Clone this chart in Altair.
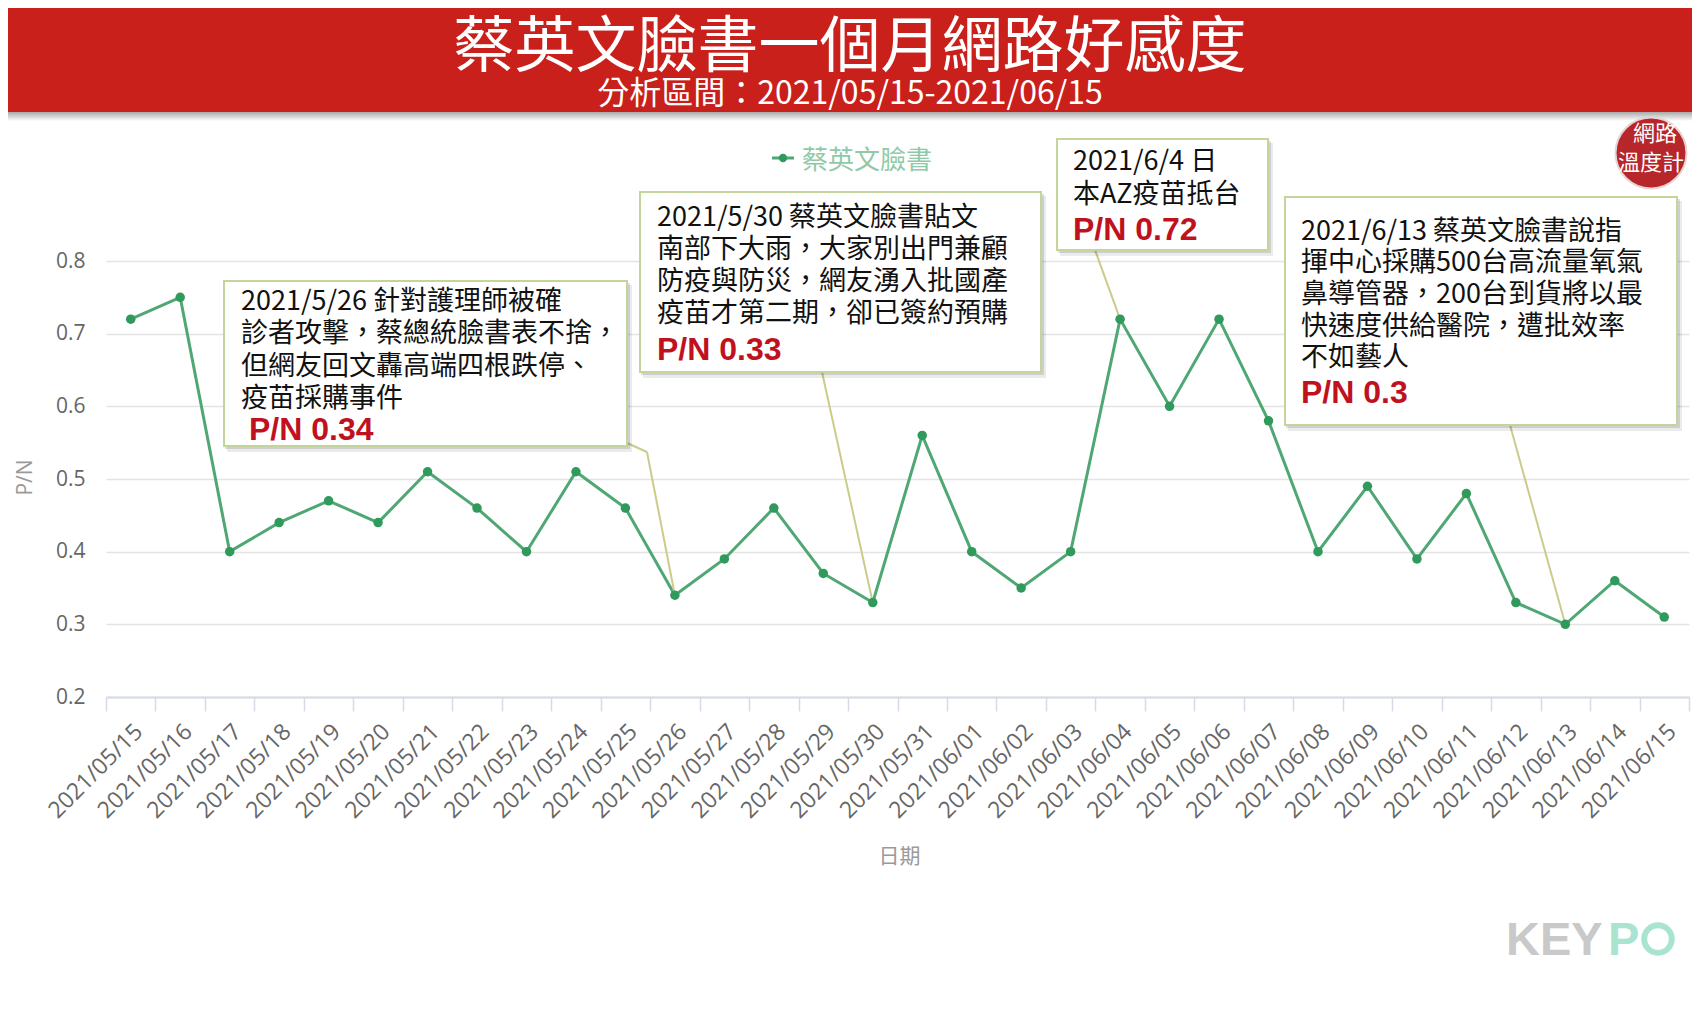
import altair as alt
import pandas as pd

# ---------------- data ----------------
dates = [
    "2021/05/15", "2021/05/16", "2021/05/17", "2021/05/18", "2021/05/19",
    "2021/05/20", "2021/05/21", "2021/05/22", "2021/05/23", "2021/05/24",
    "2021/05/25", "2021/05/26", "2021/05/27", "2021/05/28", "2021/05/29",
    "2021/05/30", "2021/05/31", "2021/06/01", "2021/06/02", "2021/06/03",
    "2021/06/04", "2021/06/05", "2021/06/06", "2021/06/07", "2021/06/08",
    "2021/06/09", "2021/06/10", "2021/06/11", "2021/06/12", "2021/06/13",
    "2021/06/14", "2021/06/15",
]
pn_values = [
    0.72, 0.75, 0.40, 0.44, 0.47, 0.44, 0.51, 0.46, 0.40, 0.51, 0.46,
    0.34, 0.39, 0.46, 0.37, 0.33, 0.56, 0.40, 0.35, 0.40, 0.72, 0.60,
    0.72, 0.58, 0.40, 0.49, 0.39, 0.48, 0.33, 0.30, 0.36, 0.31,
]
y_ticks = [0.2, 0.3, 0.4, 0.5, 0.6, 0.7, 0.8]
series_name = "蔡英文臉書"
title_text = "蔡英文臉書一個月網路好感度"
subtitle_text = "分析區間：2021/05/15-2021/06/15"
x_title = "日期"
y_title = "P/N"

ann_dates = ["2021/05/26", "2021/05/30", "2021/06/04", "2021/06/13"]
ann_lines = [
    ["2021/5/26 針對護理師被確", "診者攻擊，蔡總統臉書表不捨，", "但網友回文轟高端四根跌停、", "疫苗採購事件"],
    ["2021/5/30 蔡英文臉書貼文", "南部下大雨，大家別出門兼顧", "防疫與防災，網友湧入批國產", "疫苗才第二期，卻已簽約預購"],
    ["2021/6/4 日", "本AZ疫苗抵台"],
    ["2021/6/13 蔡英文臉書說指", "揮中心採購500台高流量氧氣", "鼻導管器，200台到貨將以最", "快速度供給醫院，遭批效率", "不如藝人"],
]
ann_pn = ["P/N 0.34", "P/N 0.33", "P/N 0.72", "P/N 0.3"]

df = pd.DataFrame({"date": dates, "pn": pn_values})

# ---------------- layout (page pixels) ----------------
W, H = 1583, 436
PAD_L, PAD_T, PAD_R = 98, 253, 3
TOTAL_H = 992
OX, OY = 8 + PAD_L, 8 + PAD_T


def X(px):
    return px - OX


def Y(py):
    return py - OY


CJK = "Noto Sans CJK TC"
LAT = "Open Sans"
RED = "#c9201b"
LINE = "#4fa774"
DOT = "#2f9a5c"
LEAD = "#cbcb8c"
BOX_STROKE = "#c4d59b"
PN_RED = "#c0111f"

# boxes: (x0, y0, x1, y1), text left, first baseline, line height, pn left/baseline, leader anchors
boxes = [
    dict(b=(224, 281, 627, 446), tx=241, ty=310, lh=32.3, pnx=249, pny=440, lead=[(627, 443), (647, 452)]),
    dict(b=(640, 192, 1041, 372), tx=657, ty=225.5, lh=32.2, pnx=657, pny=360, lead=[(822, 372)]),
    dict(b=(1057, 139, 1268, 250), tx=1073, ty=170, lh=33, pnx=1073, pny=239.5, lead=[(1095, 250)]),
    dict(b=(1285, 197, 1677, 425), tx=1301, ty=239.5, lh=31.7, pnx=1301, pny=403, lead=[(1510, 425)]),
]

one = pd.DataFrame({"k": [0]})


def rect(x0, y0, x1, y1, **kw):
    return alt.Chart(one).mark_rect(**kw).encode(
        x=alt.value(X(x0)), x2=alt.value(X(x1)), y=alt.value(Y(y0)), y2=alt.value(Y(y1))
    )


def text(s, px, py, **kw):
    return alt.Chart(one).mark_text(text=s, **kw).encode(x=alt.value(X(px)), y=alt.value(Y(py)))


def seg(x0, y0, x1, y1, **kw):
    return alt.Chart(one).mark_rule(**kw).encode(
        x=alt.value(X(x0)), x2=alt.value(X(x1)), y=alt.value(Y(y0)), y2=alt.value(Y(y1))
    )


def dot(px, py, **kw):
    return alt.Chart(one).mark_point(**kw).encode(x=alt.value(X(px)), y=alt.value(Y(py)))


xenc = alt.X(
    "date:O",
    sort=dates,
    scale=alt.Scale(type="band", paddingInner=0, paddingOuter=0),
    axis=alt.Axis(
        title=x_title,
        labelAngle=-45,
        labelAlign="right",
        labelBaseline="top",
        labelPadding=9,
        labelFont=LAT,
        labelFontSize=23,
        labelColor="#666666",
        labelOverlap=False,
        domainColor="#d3dce8",
        domainWidth=2,
        tickColor="#d3dce8",
        tickWidth=1.5,
        tickSize=14,
        tickBand="extent",
        grid=False,
        titleFont=CJK,
        titleFontSize=21,
        titleFontWeight="normal",
        titleColor="#9a9a9a",
        titleX=X(899),
        titleY=Y(856) - H,
        titleBaseline="middle",
    ),
)
yenc = alt.Y(
    "pn:Q",
    scale=alt.Scale(domain=[0.2, 0.8], nice=False, zero=False),
    axis=alt.Axis(
        title=y_title,
        values=y_ticks,
        format=".1f",
        domain=False,
        ticks=False,
        grid=True,
        gridColor="#e4e4e4",
        gridWidth=1.5,
        labelPadding=21,
        labelFont=LAT,
        labelFontSize=21,
        labelColor="#666666",
        titleFont=LAT,
        titleFontSize=21,
        titleFontWeight="normal",
        titleColor="#9a9a9a",
        titleX=X(25),
        titleY=Y(477),
        titleAlign="center",
        titleBaseline="middle",
        titleAngle=270,
    ),
)

base = alt.Chart(df)
line = base.mark_line(color=LINE, strokeWidth=3).encode(x=xenc, y=yenc)
points = base.mark_circle(color=DOT, size=90, opacity=1).encode(x=xenc, y=yenc)

layers = [line]

# leader lines (end on the data point)
for d, bx in zip(ann_dates, boxes):
    pts = bx["lead"]
    for (a0, b0), (a1, b1) in zip(pts[:-1], pts[1:]):
        layers.append(seg(a0, b0, a1, b1, color=LEAD, strokeWidth=2))
    ax, ay = pts[-1]
    layers.append(
        base.transform_filter(alt.datum.date == d)
        .mark_rule(color=LEAD, strokeWidth=2)
        .encode(x=xenc, y=yenc, x2=alt.value(X(ax)), y2=alt.value(Y(ay)))
    )

layers.append(points)

# header banner
layers.append(rect(0, 8, 1700, 112, color=RED))
layers.append(
    rect(0, 112, 1700, 121,
         fill=alt.Gradient(gradient="linear",
                           stops=[alt.GradientStop(color="#a9a9a9", offset=0),
                                  alt.GradientStop(color="#ffffff", offset=1)],
                           x1=0, x2=0, y1=0, y2=1))
)
layers.append(text(title_text, 850, 67, font=CJK, fontSize=61, color="#ffffff", align="center", baseline="alphabetic"))
layers.append(text(subtitle_text, 850, 104, font=CJK, fontSize=32, color="#ffffff", align="center", baseline="alphabetic"))

# legend
layers.append(seg(772, 158, 794, 158, color=LINE, strokeWidth=3))
layers.append(dot(783, 158, filled=True, shape="circle", size=70, color=DOT, opacity=1))
layers.append(text(series_name, 802, 169, font=CJK, fontSize=26, color="#8fc9a7", align="left", baseline="alphabetic"))

# logo
layers.append(dot(1651, 153, filled=True, shape="circle", size=5027, color="#b7262b", opacity=1,
                  stroke="#e6d3d3", strokeWidth=2))
layers.append(text("網路", 1655, 141, font=CJK, fontSize=22, color="#ffffff", align="center", baseline="alphabetic"))
layers.append(text("溫度計", 1651, 170, font=CJK, fontSize=22, color="#ffffff", align="center", baseline="alphabetic"))

# annotation boxes
for lines_, pn_txt, bx in zip(ann_lines, ann_pn, boxes):
    x0, y0, x1, y1 = bx["b"]
    layers.append(rect(x0 + 3, y0 + 4, x1 + 5, y1 + 6, color="#000000", opacity=0.08))
    layers.append(rect(x0 + 1, y0 + 2, x1 + 3, y1 + 3, color="#000000", opacity=0.12))
    layers.append(rect(x0, y0, x1, y1, fill="#ffffff", stroke=BOX_STROKE, strokeWidth=2))
    layers.append(text(lines_, bx["tx"], bx["ty"], font=CJK, fontSize=27, color="#111111",
                       align="left", baseline="alphabetic", lineHeight=bx["lh"]))
    layers.append(text(pn_txt, bx["pnx"], bx["pny"], font="Liberation Sans", fontSize=32, fontWeight="bold",
                       color=PN_RED, align="left", baseline="alphabetic"))

# watermark
layers.append(text("KEY", 1506, 955, font="Liberation Sans", fontSize=47, fontWeight="bold",
                   color="#c9c9c9", align="left", baseline="alphabetic"))
layers.append(text("P", 1608, 955, font="Liberation Sans", fontSize=47, fontWeight="bold",
                   color="#a8e4d0", align="left", baseline="alphabetic"))
layers.append(dot(1658, 939, filled=False, shape="circle", size=760, color="#a8e4d0", strokeWidth=6, opacity=1))

chart = (
    alt.layer(*layers)
    .properties(
        width=W,
        height=H,
        padding={"left": PAD_L, "top": PAD_T, "right": PAD_R, "bottom": TOTAL_H - PAD_T - H},
        autosize=alt.AutoSizeParams(type="none"),
        background="#ffffff",
    )
    .configure_view(strokeWidth=0)
)

chart.save("out.html", embed_options={"renderer": "svg", "actions": False})
